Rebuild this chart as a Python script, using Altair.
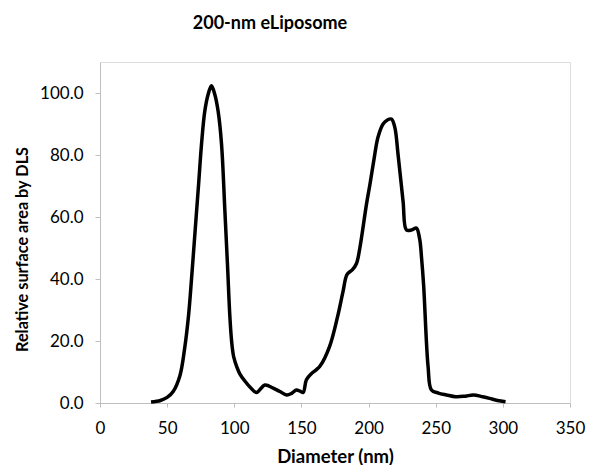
import altair as alt
import pandas as pd

diameter = [38, 45, 50, 54.5, 59.5, 63, 66, 68.5, 71, 73.5, 75.6, 78, 80.5, 83, 85.5, 88, 90.5,
            93, 95, 96.7, 98, 99.5, 102, 104, 108, 112, 116.5, 122.8, 129, 134, 139, 143, 146.3,
            149, 151.3, 153.7, 157, 161, 164, 171, 177, 181, 184, 188, 191, 193.5, 198.4,
            201, 204, 207, 210.8, 214, 217, 219.5, 222, 225.7, 228.2, 232, 235.6, 238, 239.5,
            241, 244.3, 246.8, 252, 258, 265, 272, 278, 285, 290, 296, 302]
surface = [0.3, 0.8, 1.8, 3.7, 8.8, 17.5, 28.5, 42, 56.5, 71, 83.5, 94, 99.5, 102.3, 99.5, 94, 83.5,
           62, 44, 28, 20, 15, 11.5, 9.5, 7, 5, 3.4, 5.8, 4.8, 3.7, 2.6, 3.2, 4.2,
           3.8, 3.4, 7.5, 9.3, 10.7, 12, 18.3, 28, 36, 41.5, 43, 45, 50, 64,
           70.5, 78.5, 85.7, 90, 91.3, 91.6, 89, 80, 65, 55.8, 55.8, 56.4, 53, 46.6,
           38, 11.8, 4.2, 3.2, 2.6, 2, 2.2, 2.6, 2, 1.5, 0.8, 0.4]

x_ticks = [0, 50, 100, 150, 200, 250, 300, 350]
y_ticks = [0, 20, 40, 60, 80, 100]

df = pd.DataFrame({"d": diameter, "s": surface})

FONT = "Lato"
axis_color = "#bfbfbf"

chart = alt.Chart(df).mark_line(
    color="black", strokeWidth=3.5, interpolate="catmull-rom"
).encode(
    x=alt.X("d:Q", scale=alt.Scale(domain=[0, 350], nice=False),
            axis=alt.Axis(values=x_ticks, title="Diameter (nm)", grid=False,
                          domainColor=axis_color, tickColor=axis_color, tickSize=4,
                          labelFont=FONT, labelFontSize=17, labelColor="black",
                          labelPadding=13, labelFlush=False,
                          titleFont=FONT, titleFontSize=18.5,
                          titleFontWeight="bold", titleColor="black",
                          titleY=44, titleBaseline="top")),
    y=alt.Y("s:Q", scale=alt.Scale(domain=[0, 110], nice=False),
            axis=alt.Axis(values=y_ticks, format=".1f", title="Relative surface  area by DLS",
                          grid=False, domainColor=axis_color, tickColor=axis_color,
                          tickSize=5, labelFont=FONT, labelFontSize=17,
                          labelColor="black", labelPadding=12, labelFlush=False,
                          titleFont=FONT, titleFontSize=16.3, titleFontWeight="bold",
                          titleColor="black", titleX=-70, titleY=187, titleAlign="center")),
).properties(
    width=470, height=341,
    title=alt.TitleParams("200-nm eLiposome", font=FONT, fontSize=18, fontWeight="bold",
                          color="black", anchor="middle", dx=-65, offset=29),
    autosize=alt.AutoSizeParams(type="none"),
    padding={"left": 100, "top": 62, "right": 20, "bottom": 62},
).configure_view(stroke=None).configure(background="white")

chart.save("out.html", embed_options={"renderer": "svg", "actions": False})
